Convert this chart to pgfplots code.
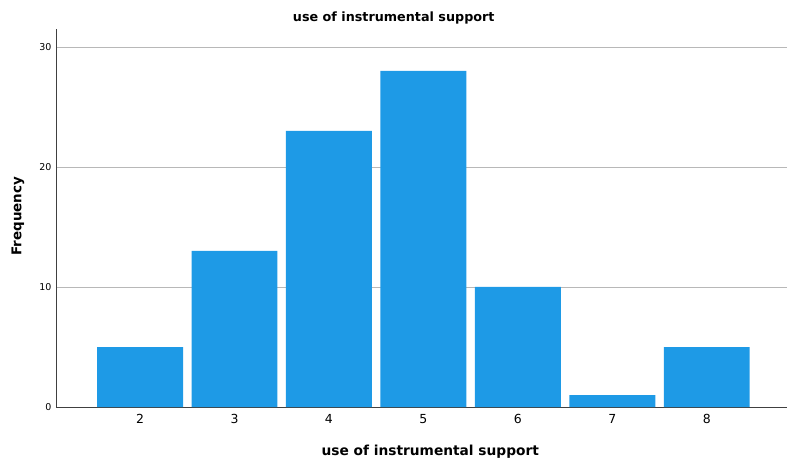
\documentclass[border=0pt]{standalone}
\usepackage{pgfplots}
\pgfplotsset{compat=1.18}
\usetikzlibrary{calc}
\usepackage{fontspec}
\setmainfont{DejaVu Sans}
\definecolor{barblue}{HTML}{1E9AE6}
\begin{document}
\begin{tikzpicture}
\begin{axis}[
  scale only axis,
  width=731bp, height=378bp,
  xmin=1.11, xmax=8.85,
  ymin=0, ymax=31.5,
  axis x line*=bottom, axis y line*=left,
  axis line style={-, draw=black!75, line width=1bp},
  xtick={2,3,4,5,6,7,8},
  ytick={0,10,20,30},
  major tick length=0pt,
  ymajorgrids, grid style={black!28, line width=0.9bp},
  /pgf/number format/assume math mode=true,
  xticklabel style={font=\fontsize{12.5}{14}\selectfont, yshift=-4bp},
  yticklabel style={font=\fontsize{9.5}{11}\selectfont, xshift=-1bp},
  title={\bfseries use of instrumental support},
  title style={at={(axis description cs:0.462,1)}, anchor=center, yshift=5bp, font=\fontsize{12.8}{14}\selectfont},
  xlabel={\bfseries use of instrumental support},
  xlabel style={at={(axis description cs:0.512,0)}, anchor=center, yshift=-45bp, font=\fontsize{13.8}{15}\selectfont},
  ylabel={\bfseries Frequency},
  ylabel style={at={(axis description cs:-0.052,0.505)}, anchor=center, rotate=0, font=\fontsize{13.5}{15}\selectfont},
  ybar, bar width=0.91, bar shift=0pt,
  clip=false,
]
\addplot[fill=barblue, draw=none] coordinates {(2,5) (3,13) (4,23) (5,28) (6,10) (7,1) (8,5)};
\end{axis}
\useasboundingbox ($(current axis.south west)+(-56bp,-60bp)$) rectangle ($(current axis.north east)+(1bp,29bp)$);
\end{tikzpicture}
\end{document}
